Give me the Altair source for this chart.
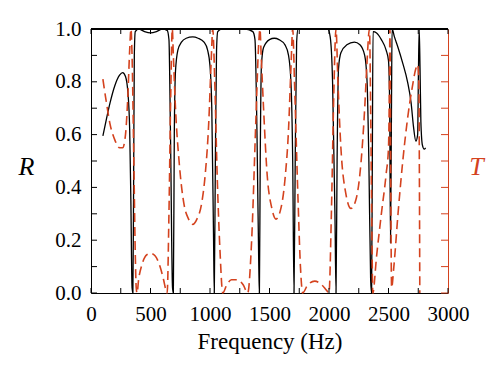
import altair as alt
import pandas as pd

# Reflectance R (black solid)
R_freq = [100, 130, 160, 200, 240, 266, 290, 310, 325, 335, 345, 352, 358, 364, 372,
          400, 450, 500, 550, 600, 640, 655, 668, 685, 692,
          700, 710, 730, 760, 800, 855, 900, 950, 980, 1000, 1015, 1030, 1036,
          1045, 1055, 1065, 1100, 1200, 1300, 1360, 1378, 1395, 1410, 1415,
          1422, 1432, 1450, 1500, 1540, 1580, 1630, 1660, 1680, 1695, 1706,
          1716, 1728, 1740, 1800, 1900, 1990, 2010, 2030, 2050, 2059,
          2068, 2080, 2100, 2150, 2213, 2260, 2300, 2320, 2335, 2350, 2358,
          2364, 2370, 2400, 2440, 2480, 2500, 2510, 2517, 2525, 2530,
          2550, 2580, 2620, 2660, 2690, 2710, 2730, 2745, 2752, 2758, 2765,
          2772, 2785, 2800, 2812]
R_val = [0.595, 0.66, 0.72, 0.785, 0.825, 0.835, 0.82, 0.76, 0.62, 0.35, 0.02, 0.0, 0.40, 0.90, 0.99,
         1.0, 0.99, 0.985, 0.99, 1.0, 0.995, 0.96, 0.60, 0.02, 0.0,
         0.60, 0.84, 0.92, 0.95, 0.965, 0.97, 0.965, 0.95, 0.92, 0.86, 0.70, 0.20, 0.0,
         0.50, 0.92, 0.99, 1.0, 1.0, 1.0, 0.99, 0.96, 0.60, 0.10, 0.0,
         0.50, 0.86, 0.93, 0.96, 0.965, 0.96, 0.94, 0.90, 0.80, 0.50, 0.0,
         0.50, 0.95, 1.0, 1.0, 1.0, 1.0, 0.97, 0.80, 0.30, 0.0,
         0.50, 0.85, 0.91, 0.94, 0.95, 0.94, 0.90, 0.80, 0.50, 0.05, 0.0,
         0.50, 0.99, 0.985, 0.96, 0.92, 0.88, 0.70, 0.19, 0.70, 1.0,
         0.97, 0.93, 0.87, 0.80, 0.72, 0.63, 0.575, 0.60, 0.85, 1.0, 0.85,
         0.65, 0.56, 0.545, 0.55]

# Transmittance T (red dashed)
T_freq = [100, 130, 160, 200, 240, 266, 290, 310, 325, 336, 345, 360, 372, 380, 387,
          400, 430, 470, 500, 540, 580, 610, 630, 640, 655, 670, 683, 692,
          710, 740, 780, 820, 855, 890, 930, 960, 990, 1010, 1023, 1040, 1060, 1085, 1107,
          1140, 1180, 1230, 1280, 1317, 1350, 1385, 1410, 1420, 1430, 1450, 1480, 1520,
          1555, 1590, 1630, 1660, 1680, 1695, 1710, 1740, 1760, 1779, 1820, 1880, 1930,
          1980, 2000, 2020, 2040, 2059, 2075, 2100, 2140, 2185, 2230, 2270, 2300, 2320,
          2340, 2350, 2360, 2368, 2400, 2440, 2480, 2500, 2508, 2512, 2518, 2526,
          2545, 2580, 2620, 2660, 2700, 2730, 2745, 2755, 2760, 2763]
T_val = [0.81, 0.72, 0.64, 0.58, 0.55, 0.55, 0.60, 0.75, 0.92, 1.0, 0.90, 0.50, 0.15, 0.02, 0.0,
         0.05, 0.11, 0.145, 0.15, 0.14, 0.10, 0.05, 0.01, 0.0, 0.30, 0.75, 1.0, 0.90,
         0.70, 0.50, 0.34, 0.28, 0.26, 0.28, 0.34, 0.45, 0.65, 0.88, 1.0, 0.80, 0.45, 0.15, 0.0,
         0.03, 0.05, 0.05, 0.03, 0.0, 0.20, 0.65, 0.95, 1.0, 0.90, 0.70, 0.45, 0.32,
         0.28, 0.31, 0.43, 0.62, 0.85, 1.0, 0.80, 0.35, 0.10, 0.0, 0.03, 0.045, 0.035,
         0.01, 0.0, 0.30, 0.75, 1.0, 0.80, 0.55, 0.38, 0.32, 0.36, 0.50, 0.70, 0.88,
         1.0, 0.70, 0.25, 0.0, 0.14, 0.30, 0.45, 0.55, 0.80, 1.0, 0.50, 0.02,
         0.10, 0.30, 0.50, 0.66, 0.78, 0.85, 0.865, 0.80, 0.40, 0.0]

x_labels = [0, 500, 1000, 1500, 2000, 2500, 3000]
x_ticks = [0, 250, 500, 750, 1000, 1250, 1500, 1750, 2000, 2250, 2500, 2750, 3000]
y_ticks = [0.0, 0.1, 0.2, 0.3, 0.4, 0.5, 0.6, 0.7, 0.8, 0.9, 1.0]
y_labels = [0.0, 0.2, 0.4, 0.6, 0.8, 1.0]

W, H = 357, 264
RED = "#d4421e"
FONT = "Liberation Serif"

dfR = pd.DataFrame({"f": R_freq, "R": R_val})
dfT = pd.DataFrame({"f": T_freq, "T": T_val})
dfx = pd.DataFrame({"fx": x_ticks})
dfy = pd.DataFrame({"ty": y_ticks})

xscale = alt.Scale(domain=[0, 3000], nice=False, zero=False)
yscale = alt.Scale(domain=[0, 1], nice=False, zero=False)

x_axis = alt.Axis(values=x_labels, format="d", title="Frequency (Hz)", ticks=False, grid=False,
                  domainColor="black", labelPadding=10, labelFontSize=21, labelFont=FONT,
                  labelFlush=False, labelOverlap=False,
                  titleFont=FONT, titleFontSize=23, titleFontWeight="normal", titlePadding=6,
                  labelColor="black", titleColor="black")

left_axis = alt.Axis(values=y_labels, format=".1f", title="R", ticks=False, grid=False,
                     domainColor="black", labelPadding=10, labelFontSize=21, labelFont=FONT,
                     labelFlush=False, labelOverlap=False,
                     titleFont=FONT, titleAngle=0, titleX=-65, titleY=137, titleAlign="center",
                     titleBaseline="middle", titleFontSize=26, titleFontStyle="italic",
                     titleFontWeight="normal", labelColor="black", titleColor="black")

right_axis = alt.Axis(orient="right", values=y_labels, title="T", ticks=False, labels=False,
                      grid=False, domainColor=RED, titleFont=FONT, titleAngle=0, titleX=28,
                      titleY=137, titleAlign="center", titleBaseline="middle", titleFontSize=26,
                      titleFontStyle="italic", titleFontWeight="normal", titleColor=RED)

r_line = alt.Chart(dfR).mark_line(color="black", strokeWidth=1.3, interpolate="monotone").encode(
    x=alt.X("f:Q", scale=xscale, axis=x_axis),
    y=alt.Y("R:Q", scale=yscale, axis=left_axis),
)

t_line = alt.Chart(dfT).mark_line(color=RED, strokeWidth=1.6, strokeDash=[9, 5],
                                  interpolate="monotone").encode(
    x=alt.X("f:Q", scale=xscale, axis=x_axis),
    y=alt.Y("T:Q", scale=yscale, axis=right_axis),
)

left_ticks = alt.Chart(dfy).mark_rule(color="black", strokeWidth=1).encode(
    y=alt.Y("ty:Q", scale=yscale, axis=None),
    x=alt.value(0), x2=alt.value(6),
)

right_ticks = alt.Chart(dfy).mark_rule(color=RED, strokeWidth=1).encode(
    y=alt.Y("ty:Q", scale=yscale, axis=None),
    x=alt.value(W - 7), x2=alt.value(W),
)

bottom_ticks = alt.Chart(dfx).mark_rule(color="black", strokeWidth=1).encode(
    x=alt.X("fx:Q", scale=xscale, axis=x_axis),
    y=alt.value(H), y2=alt.value(H - 5),
)

top_ticks = alt.Chart(dfx).mark_rule(color="black", strokeWidth=1).encode(
    x=alt.X("fx:Q", scale=xscale, axis=x_axis),
    y=alt.value(0), y2=alt.value(5),
)

top_border = alt.Chart(dfx).mark_rule(color="black", strokeWidth=1).encode(
    x=alt.value(0), x2=alt.value(W), y=alt.value(0),
)

chart = alt.layer(r_line, t_line, left_ticks, right_ticks, bottom_ticks, top_ticks,
                  top_border).resolve_scale(y="independent").properties(
    width=W, height=H,
    padding={"left": 10, "top": 10, "right": 5, "bottom": 5},
).configure_view(stroke=None)

chart.save("out.html", embed_options={"renderer": "svg", "actions": False})
